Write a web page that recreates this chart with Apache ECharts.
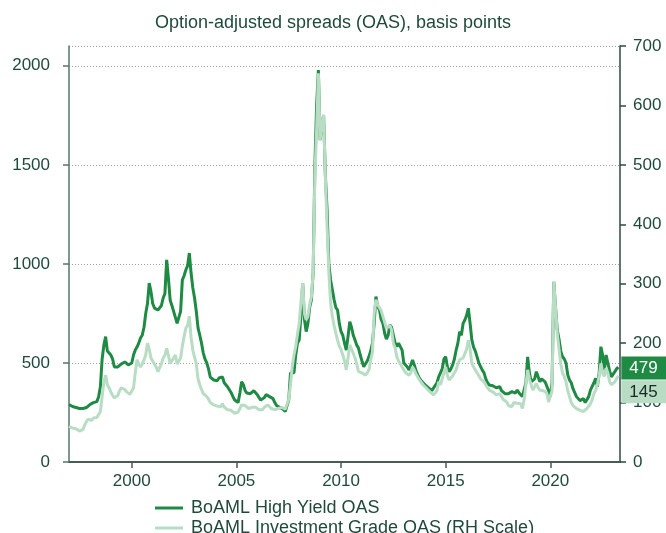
<!DOCTYPE html>
<html>
<head>
<meta charset="utf-8">
<script src="https://cdn.jsdelivr.net/npm/echarts@6/dist/echarts.min.js"></script>
<style>
  html, body { margin: 0; padding: 0; background: #ffffff; }
  #chart { width: 666px; height: 533px; }
</style>
</head>
<body>
<div id="chart"></div>
<script>
// Monthly observations starting January 1997
const startYear = 1997;

// BoAML High Yield OAS, basis points (left scale)
const hyOas = [
  290, 285, 280, 275, 275, 265, 270, 262, 270, 280, 275, 280, // 1997
  290, 285, 300, 295, 305, 330, 380, 520, 590, 633, 560, 570, // 1998
  540, 520, 480, 490, 480, 485, 495, 500, 505, 515, 490, 480, // 1999
  500, 540, 565, 580, 600, 626, 640, 680, 750, 800, 903, 860, // 2000
  800, 777, 780, 767, 760, 790, 828, 850, 1020, 930, 818, 790, // 2001
  760, 730, 700, 692, 760, 919, 940, 970, 990, 1055, 954, 880, // 2002
  828, 760, 676, 640, 600, 550, 520, 500, 470, 429, 420, 414, // 2003
  414, 410, 424, 420, 430, 400, 395, 379, 370, 350, 330, 313, // 2004
  313, 300, 350, 405, 390, 360, 348, 350, 345, 355, 360, 355, // 2005
  340, 325, 313, 315, 325, 340, 338, 330, 335, 320, 300, 285, // 2006
  279, 275, 285, 265, 254, 260, 313, 449, 440, 450, 540, 600, // 2007
  616, 740, 903, 720, 658, 700, 780, 818, 954, 1500, 1800, 1979, // 2008
  1625, 1700, 1752, 1450, 1272, 1000, 919, 870, 820, 780, 767, 700, // 2009
  658, 640, 600, 565, 633, 708, 680, 640, 616, 590, 575, 540, // 2010
  510, 481, 490, 510, 532, 560, 600, 700, 835, 784, 770, 720, // 2011
  700, 650, 620, 640, 692, 680, 640, 600, 582, 600, 607, 565, // 2012
  500, 490, 480, 464, 470, 515, 490, 460, 440, 422, 410, 400, // 2013
  390, 380, 375, 370, 360, 373, 380, 400, 430, 440, 470, 520, // 2014
  531, 480, 456, 470, 490, 520, 565, 600, 658, 640, 700, 717, // 2015
  740, 776, 700, 616, 580, 560, 531, 500, 490, 464, 450, 420, // 2016
  400, 389, 390, 385, 380, 375, 372, 380, 360, 350, 345, 338, // 2017
  345, 348, 355, 350, 348, 363, 350, 340, 330, 321, 400, 531, // 2018
  450, 405, 400, 420, 456, 430, 405, 420, 410, 405, 400, 360, // 2019
  330, 400, 910, 780, 666, 620, 560, 531, 520, 500, 440, 414, // 2020
  400, 370, 350, 330, 320, 310, 313, 320, 300, 310, 330, 363, // 2021
  370, 400, 422, 380, 450, 582, 540, 464, 540, 500, 460, 430, // 2022
  440, 456, 470, 479                                          // 2023
];

// BoAML Investment Grade OAS, basis points (right scale)
const igOas = [
  60, 58, 57, 58, 56, 54, 52, 51, 55, 62, 68, 72,             // 1997
  72, 70, 74, 72, 75, 80, 85, 110, 135, 146, 130, 125,        // 1998
  118, 112, 108, 107, 112, 120, 125, 127, 122, 118, 116, 114, // 1999
  116, 125, 150, 172, 165, 160, 165, 172, 180, 200, 190, 175, // 2000
  170, 165, 160, 152, 155, 165, 175, 180, 191, 180, 166, 170, // 2001
  175, 180, 165, 163, 175, 195, 211, 225, 230, 245, 210, 188, // 2002
  185, 165, 140, 130, 122, 115, 113, 110, 106, 100, 98, 96,   // 2003
  96, 94, 92, 93, 98, 92, 90, 88, 88, 87, 85, 82,             // 2004
  82, 84, 90, 96, 98, 95, 92, 90, 88, 92, 94, 92,             // 2005
  90, 88, 87, 88, 92, 95, 96, 94, 90, 88, 88, 89,             // 2006
  90, 90, 92, 90, 89, 88, 105, 130, 160, 180, 194, 215,       // 2007
  233, 270, 301, 250, 239, 245, 265, 278, 320, 480, 560, 654, // 2008
  542, 570, 584, 480, 396, 320, 268, 245, 230, 217, 205, 195, // 2009
  189, 180, 170, 155, 175, 197, 190, 183, 175, 165, 152, 155, // 2010
  150, 148, 146, 150, 155, 172, 185, 250, 273, 264, 260, 255, // 2011
  245, 235, 225, 228, 230, 222, 200, 192, 177, 170, 165, 160, // 2012
  155, 150, 148, 146, 150, 160, 155, 148, 145, 138, 135, 130, // 2013
  128, 124, 122, 118, 115, 113, 115, 120, 135, 130, 140, 150, // 2014
  160, 145, 138, 140, 145, 150, 155, 165, 172, 170, 175, 177, // 2015
  190, 205, 190, 166, 160, 155, 150, 145, 140, 138, 135, 130, // 2016
  125, 121, 120, 118, 115, 113, 113, 115, 112, 105, 103, 101, // 2017
  95, 98, 93, 100, 102, 99, 100, 98, 90, 105, 130, 155,       // 2018
  140, 130, 121, 118, 132, 125, 121, 118, 120, 118, 116, 101, // 2019
  100, 120, 303, 260, 217, 190, 165, 150, 144, 135, 120, 110, // 2020
  100, 95, 92, 90, 88, 87, 86, 85, 88, 90, 93, 98,            // 2021
  105, 115, 121, 130, 145, 166, 150, 144, 158, 150, 135, 130, // 2022
  128, 135, 140, 145                                          // 2023
];

const yearTicks = [2000, 2005, 2010, 2015, 2020];
const seriesNames = ['BoAML High Yield OAS', 'BoAML Investment Grade OAS (RH Scale)'];
const subtitle = 'Option-adjusted spreads (OAS), basis points';

const textColor = '#1f4a3b';
const hyColor = '#1e8a43';
const igColor = '#b8dcc4';
const font = 'Liberation Sans, Arial, sans-serif';

// pair each monthly value with its fractional-year position
const toPoints = arr => arr.map((v, i) => [startYear + i / 12, v]);

// one legend row per series, stacked under the plot
const legendRow = (name, top) => ({
  left: 150,
  top: top,
  icon: 'rect',
  itemWidth: 28,
  itemHeight: 3,
  data: [name],
  textStyle: { fontSize: 18, color: textColor, fontFamily: font, padding: [0, 0, 0, 3] }
});

const chart = echarts.init(document.getElementById('chart'), null, { renderer: 'canvas' });

chart.setOption({
  animation: false,
  textStyle: { fontFamily: font },
  title: {
    text: subtitle,
    left: 'center',
    top: 9,
    textStyle: { fontSize: 18, fontWeight: 'normal', color: textColor, fontFamily: font }
  },
  grid: { left: 69, right: 46, top: 46, bottom: 71 },
  legend: [legendRow(seriesNames[0], 494), legendRow(seriesNames[1], 514)],
  xAxis: {
    type: 'value',
    min: startYear,
    max: 2023.33,
    axisLine: { show: true, onZero: false, lineStyle: { color: '#4a5a55', width: 2 } },
    axisTick: { show: true, customValues: yearTicks, length: 6, lineStyle: { color: '#4a5a55', width: 1.5 } },
    axisLabel: {
      customValues: yearTicks,
      formatter: v => String(v),
      margin: 11,
      fontSize: 17,
      color: textColor,
      fontFamily: font
    },
    splitLine: { show: false }
  },
  yAxis: [
    {
      type: 'value',
      position: 'left',
      min: 0,
      max: 2100,
      interval: 500,
      axisLine: { show: true, lineStyle: { color: '#557568', width: 1.5 } },
      axisTick: { show: true, length: 6, lineStyle: { color: '#557568', width: 1.5 } },
      axisLabel: {
        showMaxLabel: false,
        formatter: v => String(v),
        margin: 19,
        fontSize: 17,
        color: textColor,
        fontFamily: font
      },
      splitLine: { show: true, lineStyle: { color: '#a0a0a0', width: 1, type: [1, 2] } }
    },
    {
      type: 'value',
      position: 'right',
      min: 0,
      max: 700,
      interval: 100,
      axisLine: { show: true, lineStyle: { color: '#2c4a3f', width: 1.5 } },
      axisTick: { show: true, length: 6, lineStyle: { color: '#2c4a3f', width: 1.5 } },
      axisLabel: {
        formatter: v => String(v),
        margin: 13,
        fontSize: 17,
        color: textColor,
        fontFamily: font
      },
      splitLine: { show: false }
    }
  ],
  series: [
    {
      name: seriesNames[0],
      type: 'line',
      yAxisIndex: 0,
      data: toPoints(hyOas),
      showSymbol: false,
      symbol: 'none',
      lineStyle: { color: hyColor, width: 3 },
      itemStyle: { color: hyColor },
      endLabel: {
        show: true,
        formatter: p => String(p.value[1]),
        distance: 3,
        offset: [0, 1],
        fontSize: 17,
        color: '#ffffff',
        fontFamily: font,
        backgroundColor: hyColor,
        padding: [3, 12, 3, 8]
      }
    },
    {
      name: seriesNames[1],
      type: 'line',
      yAxisIndex: 1,
      data: toPoints(igOas),
      showSymbol: false,
      symbol: 'none',
      lineStyle: { color: igColor, width: 3 },
      itemStyle: { color: igColor },
      endLabel: {
        show: true,
        formatter: p => String(p.value[1]),
        distance: 3,
        offset: [0, 16],
        fontSize: 17,
        color: '#1a2a24',
        fontFamily: font,
        backgroundColor: igColor,
        padding: [3, 12, 3, 8]
      }
    }
  ]
});
</script>
</body>
</html>
